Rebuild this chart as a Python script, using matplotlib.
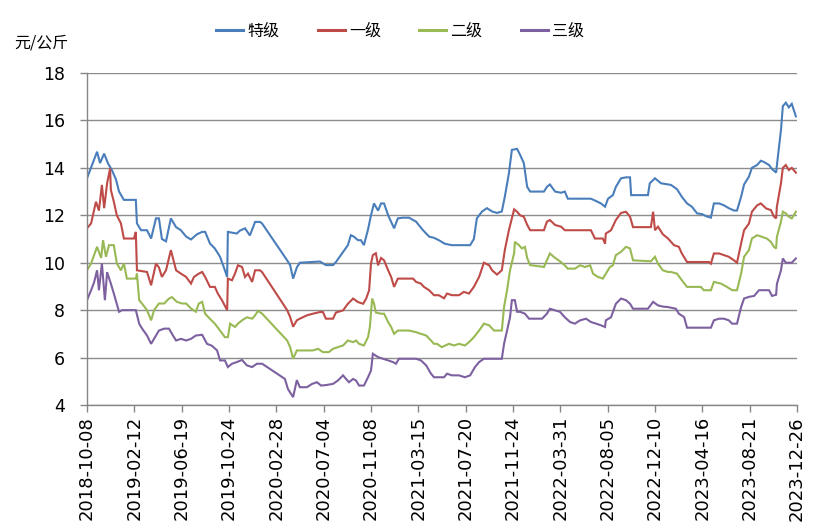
import matplotlib
matplotlib.use("Agg")
import matplotlib.pyplot as plt
import pandas as pd

plt.rcParams['font.family'] = ['DejaVu Sans', 'Noto Sans CJK SC']

start = "2018-10-08"
end = "2023-12-26"
series_names = ["特级", "一级", "二级", "三级"]
colors = ["#4A7EBB", "#BE4B48", "#98B954", "#7D60A0"]
unit_label = "元/公斤"
y_ticks = [4, 6, 8, 10, 12, 14, 16, 18]

# days since start date / price (yuan per kg)
te_days = [0, 27, 35, 46, 56, 67, 78, 86, 99, 131,
           134, 145, 161, 172, 185, 193, 201, 212, 225, 239,
           252, 266, 279, 295, 309, 317, 330, 343, 357, 370,
           376, 378, 402, 410, 424, 437, 451, 464, 470, 537,
           545, 553, 563, 571, 625, 641, 660, 668, 681, 700,
           708, 716, 727, 735, 743, 754, 762, 770, 781, 789,
           797, 808, 816, 824, 834, 848, 864, 883, 901, 918,
           931, 944, 960, 979, 1028, 1038, 1046, 1060, 1073, 1087,
           1100, 1113, 1121, 1132, 1140, 1154, 1162, 1172, 1181, 1189,
           1226, 1234, 1242, 1256, 1272, 1282, 1290, 1352, 1366, 1379,
           1390, 1398, 1411, 1419, 1433, 1446, 1457, 1460, 1505, 1510,
           1524, 1540, 1559, 1567, 1583, 1596, 1610, 1623, 1637, 1650,
           1663, 1674, 1682, 1696, 1709, 1722, 1736, 1744, 1755, 1763,
           1776, 1784, 1798, 1808, 1816, 1830, 1838, 1849, 1851, 1857,
           1862, 1867, 1875, 1883, 1891, 1902]
te_vals = [13.56, 14.68, 14.2, 14.6, 14.2, 13.9, 13.5, 13.0, 12.65, 12.65,
           11.66, 11.37, 11.37, 11.02, 11.87, 11.87, 11.0, 10.9, 11.87, 11.5,
           11.37, 11.1, 10.98, 11.2, 11.3, 11.3, 10.81, 10.6, 10.25, 9.68,
           9.4, 11.3, 11.23, 11.35, 11.45, 11.15, 11.72, 11.72, 11.65, 10.1,
           9.9, 9.33, 9.8, 10.0, 10.05, 9.9, 9.9, 10.03, 10.32, 10.74,
           11.16, 11.1, 10.95, 10.95, 10.74, 11.4, 12.0, 12.5, 12.2, 12.5,
           12.5, 12.0, 11.73, 11.45, 11.87, 11.9, 11.9, 11.73, 11.38, 11.1,
           11.05, 10.95, 10.8, 10.74, 10.74, 11.0, 11.87, 12.16, 12.3, 12.16,
           12.1, 12.16, 12.78, 13.77, 14.76, 14.8, 14.55, 14.2, 13.2, 13.0,
           13.0, 13.2, 13.3, 13.0, 12.95, 13.0, 12.7, 12.7, 12.6, 12.5,
           12.36, 12.7, 12.85, 13.2, 13.56, 13.6, 13.6, 12.85, 12.85, 13.35,
           13.56, 13.35, 13.3, 13.28, 13.1, 12.78, 12.5, 12.36, 12.08, 12.05,
           11.95, 11.9, 12.5, 12.5, 12.42, 12.3, 12.2, 12.2, 12.78, 13.3,
           13.63, 14.0, 14.12, 14.3, 14.25, 14.12, 13.95, 13.8, 14.1, 14.9,
           15.6, 16.6, 16.75, 16.55, 16.7, 16.17]

yi_days = [0, 11, 24, 32, 40, 46, 54, 62, 64, 72,
           80, 91, 99, 126, 131, 134, 161, 172, 185, 193,
           201, 212, 225, 239, 252, 266, 279, 287, 300, 309,
           317, 330, 343, 351, 362, 376, 378, 389, 397, 405,
           416, 424, 432, 443, 451, 464, 470, 537, 545, 553,
           563, 571, 590, 606, 625, 633, 641, 660, 668, 687,
           700, 714, 727, 741, 749, 757, 762, 767, 775, 781,
           789, 797, 808, 816, 824, 834, 875, 883, 896, 904,
           918, 931, 944, 958, 966, 979, 998, 1011, 1025, 1038,
           1052, 1065, 1079, 1087, 1100, 1113, 1121, 1132, 1146, 1154,
           1162, 1172, 1181, 1189, 1226, 1234, 1242, 1256, 1272, 1282,
           1352, 1363, 1384, 1390, 1392, 1406, 1419, 1433, 1446, 1457,
           1465, 1513, 1519, 1524, 1532, 1545, 1559, 1575, 1588, 1596,
           1610, 1669, 1674, 1682, 1696, 1709, 1722, 1736, 1744, 1755,
           1763, 1776, 1784, 1798, 1808, 1822, 1835, 1843, 1849, 1851,
           1862, 1867, 1875, 1883, 1891, 1902]
yi_vals = [11.45, 11.66, 12.57, 12.2, 13.28, 12.3, 13.35, 13.98, 13.07, 12.57,
           12.0, 11.66, 11.02, 11.02, 11.3, 9.68, 9.61, 9.05, 9.96, 9.8,
           9.4, 9.68, 10.53, 9.68, 9.54, 9.4, 9.12, 9.4, 9.54, 9.61,
           9.4, 8.98, 8.98, 8.7, 8.42, 8.0, 9.33, 9.26, 9.54, 9.89,
           9.82, 9.4, 9.54, 9.19, 9.68, 9.68, 9.6, 8.0, 7.71, 7.3,
           7.57, 7.64, 7.78, 7.85, 7.92, 7.92, 7.64, 7.64, 7.9, 7.99,
           8.27, 8.49, 8.34, 8.27, 8.49, 8.84, 9.97, 10.32, 10.4, 9.89,
           10.2, 10.1, 9.68, 9.4, 8.98, 9.33, 9.33, 9.19, 9.12, 8.98,
           8.84, 8.63, 8.63, 8.5, 8.7, 8.63, 8.63, 8.77, 8.7, 8.98,
           9.4, 10.0, 9.89, 9.68, 9.5, 9.68, 10.53, 11.37, 12.25, 12.15,
           12.0, 11.94, 11.6, 11.37, 11.37, 11.73, 11.8, 11.59, 11.52, 11.37,
           11.37, 11.02, 11.02, 10.8, 11.23, 11.37, 11.8, 12.1, 12.15, 11.94,
           11.5, 11.5, 12.15, 11.37, 11.52, 11.2, 11.02, 10.74, 10.67, 10.39,
           10.03, 10.03, 9.96, 10.39, 10.39, 10.32, 10.25, 10.1, 10.0, 10.81,
           11.37, 11.65, 12.15, 12.42, 12.5, 12.29, 12.22, 11.95, 11.87, 12.36,
           13.35, 14.0, 14.12, 13.91, 14.0, 13.8]

er_days = [0, 11, 19, 27, 38, 43, 51, 59, 72, 80,
           91, 99, 107, 131, 134, 140, 148, 161, 172, 180,
           193, 207, 220, 228, 241, 255, 266, 279, 292, 300,
           309, 317, 330, 343, 357, 370, 378, 384, 397, 405,
           416, 429, 443, 451, 459, 470, 537, 545, 553, 563,
           606, 620, 633, 649, 660, 673, 687, 700, 714, 722,
           730, 743, 754, 759, 765, 770, 775, 789, 797, 808,
           816, 824, 834, 864, 883, 896, 910, 923, 931, 939,
           952, 971, 985, 998, 1014, 1025, 1038, 1052, 1065, 1079,
           1092, 1113, 1119, 1127, 1135, 1146, 1148, 1159, 1167, 1175,
           1181, 1189, 1226, 1234, 1242, 1256, 1269, 1282, 1290, 1309,
           1323, 1336, 1350, 1358, 1371, 1384, 1392, 1403, 1411, 1419,
           1433, 1446, 1457, 1465, 1513, 1524, 1532, 1545, 1559, 1567,
           1583, 1596, 1610, 1647, 1655, 1674, 1682, 1701, 1717, 1731,
           1744, 1755, 1763, 1776, 1784, 1798, 1811, 1824, 1835, 1843,
           1849, 1851, 1862, 1867, 1875, 1883, 1891, 1902]
er_vals = [9.68, 9.97, 10.32, 10.67, 10.2, 10.95, 10.25, 10.74, 10.74, 9.97,
           9.68, 9.97, 9.33, 9.33, 9.54, 8.42, 8.27, 8.0, 7.57, 8.0,
           8.28, 8.28, 8.49, 8.55, 8.35, 8.28, 8.28, 8.07, 7.93, 8.28,
           8.35, 7.85, 7.63, 7.43, 7.14, 6.86, 6.86, 7.43, 7.29, 7.43,
           7.57, 7.7, 7.64, 7.78, 7.97, 7.85, 6.72, 6.44, 5.95, 6.3,
           6.3, 6.37, 6.23, 6.23, 6.37, 6.44, 6.51, 6.72, 6.65, 6.72,
           6.58, 6.51, 6.86, 7.29, 8.49, 8.28, 7.9, 7.85, 7.85, 7.5,
           7.29, 7.0, 7.14, 7.14, 7.07, 7.0, 6.93, 6.72, 6.58, 6.58,
           6.44, 6.58, 6.51, 6.58, 6.51, 6.65, 6.86, 7.14, 7.43, 7.36,
           7.14, 7.14, 8.13, 8.84, 9.68, 10.4, 10.88, 10.74, 10.6, 10.67,
           10.2, 9.9, 9.82, 10.1, 10.39, 10.2, 10.06, 9.89, 9.75, 9.75,
           9.89, 9.82, 9.89, 9.53, 9.4, 9.33, 9.54, 9.82, 9.89, 10.32,
           10.46, 10.67, 10.6, 10.1, 10.06, 10.25, 9.96, 9.68, 9.61, 9.61,
           9.54, 9.26, 8.98, 8.98, 8.84, 8.84, 9.19, 9.12, 8.98, 8.84,
           8.84, 9.54, 10.25, 10.53, 11.02, 11.16, 11.09, 11.02, 10.88, 10.67,
           10.6, 11.09, 11.73, 12.15, 12.08, 11.94, 11.87, 12.15]

san_days = [0, 11, 19, 27, 32, 40, 48, 54, 64, 72,
            86, 94, 131, 140, 148, 161, 172, 180, 193, 207,
            220, 228, 239, 252, 266, 279, 292, 309, 322, 335,
            349, 357, 370, 378, 389, 402, 416, 429, 443, 456,
            470, 531, 539, 553, 563, 571, 590, 604, 617, 628,
            641, 660, 673, 687, 695, 703, 714, 722, 730, 743,
            754, 762, 767, 781, 794, 808, 821, 829, 837, 883,
            896, 910, 923, 931, 944, 958, 966, 979, 998, 1014,
            1028, 1041, 1052, 1065, 1113, 1119, 1127, 1135, 1140, 1148,
            1154, 1162, 1175, 1186, 1221, 1234, 1242, 1256, 1269, 1282,
            1296, 1309, 1323, 1339, 1352, 1366, 1379, 1390, 1392, 1406,
            1419, 1433, 1446, 1457, 1465, 1505, 1519, 1532, 1545, 1559,
            1580, 1588, 1602, 1610, 1674, 1682, 1696, 1709, 1722, 1731,
            1744, 1755, 1763, 1776, 1790, 1803, 1830, 1838, 1849, 1851,
            1862, 1867, 1875, 1883, 1891, 1902]
san_vals = [8.42, 8.84, 9.17, 9.68, 8.84, 9.97, 8.42, 9.6, 9.12, 8.7,
            7.93, 8.0, 8.0, 7.43, 7.22, 6.93, 6.58, 6.79, 7.14, 7.22,
            7.22, 7.0, 6.72, 6.79, 6.72, 6.79, 6.93, 6.96, 6.58, 6.5,
            6.3, 5.88, 5.88, 5.6, 5.74, 5.81, 5.9, 5.67, 5.6, 5.74,
            5.74, 5.1, 4.68, 4.33, 5.05, 4.75, 4.75, 4.89, 4.96, 4.82,
            4.84, 4.89, 5.03, 5.25, 5.1, 4.96, 5.1, 5.03, 4.82, 4.82,
            5.17, 5.45, 6.16, 6.02, 5.95, 5.88, 5.81, 5.74, 5.95, 5.95,
            5.88, 5.67, 5.32, 5.17, 5.17, 5.17, 5.32, 5.25, 5.25, 5.17,
            5.25, 5.6, 5.81, 5.95, 5.95, 6.58, 7.14, 7.7, 8.42, 8.42,
            7.93, 7.93, 7.85, 7.64, 7.64, 7.85, 8.06, 7.99, 7.93, 7.7,
            7.5, 7.43, 7.57, 7.64, 7.5, 7.43, 7.36, 7.29, 7.57, 7.7,
            8.27, 8.49, 8.42, 8.27, 8.06, 8.06, 8.35, 8.2, 8.15, 8.13,
            8.06, 7.85, 7.71, 7.26, 7.26, 7.57, 7.64, 7.64, 7.57, 7.43,
            7.43, 8.13, 8.49, 8.56, 8.6, 8.84, 8.84, 8.6, 8.65, 9.1,
            9.68, 10.18, 10.0, 10.0, 10.0, 10.18]

all_days = [te_days, yi_days, er_days, san_days]
all_vals = [te_vals, yi_vals, er_vals, san_vals]

t0 = pd.Timestamp(start)
t1 = pd.Timestamp(end)

fig = plt.figure(figsize=(8.2, 5.3), dpi=100)
ax = fig.add_axes([87 / 820, 1 - 405 / 530, 710 / 820, 332 / 530])

handles = []
for name, c, d, v in zip(series_names, colors, all_days, all_vals):
    n = min(len(d), len(v))
    x = t0 + pd.to_timedelta(d[:n], unit="D")
    h, = ax.plot(x, v[:n], color=c, lw=1.5, solid_joinstyle="miter")
    handles.append(h)

ax.set_ylim(4, 18)
ax.set_yticks(y_ticks)
ax.set_xlim(t0, t1)
ticks = pd.date_range(t0, t1, freq="127D")
ax.set_xticks(ticks)
ax.set_xticklabels([t.strftime("%Y-%m-%d") for t in ticks], rotation=90)

ax.grid(axis="y", color="#8c8c8c", lw=1.0)
ax.set_axisbelow(True)
for s in ["top", "right"]:
    ax.spines[s].set_visible(False)
for s in ["left", "bottom"]:
    ax.spines[s].set_color("#868686")
    ax.spines[s].set_linewidth(1.0)
ax.tick_params(axis="both", colors="#868686", length=5, width=1.0,
               labelcolor="#000000")
ax.tick_params(axis="y", labelsize=12.5, pad=11)
ax.tick_params(axis="x", labelsize=13, pad=3)

fig.text(14 / 820, 1 - 43 / 530, unit_label, fontsize=11.5,
         va="center", ha="left", family=["Noto Sans CJK SC", "DejaVu Sans"])

leg = fig.legend(handles, series_names, loc="center",
                 bbox_to_anchor=(400 / 820, 1 - 31 / 530), ncol=4,
                 frameon=False, handlelength=1.7, handletextpad=0.25,
                 columnspacing=2.4,
                 prop={"family": ["Noto Sans CJK SC", "DejaVu Sans"], "size": 11.5})
for lh in leg.get_lines():
    lh.set_linewidth(2.2)

fig.savefig("out.png", dpi=100)
